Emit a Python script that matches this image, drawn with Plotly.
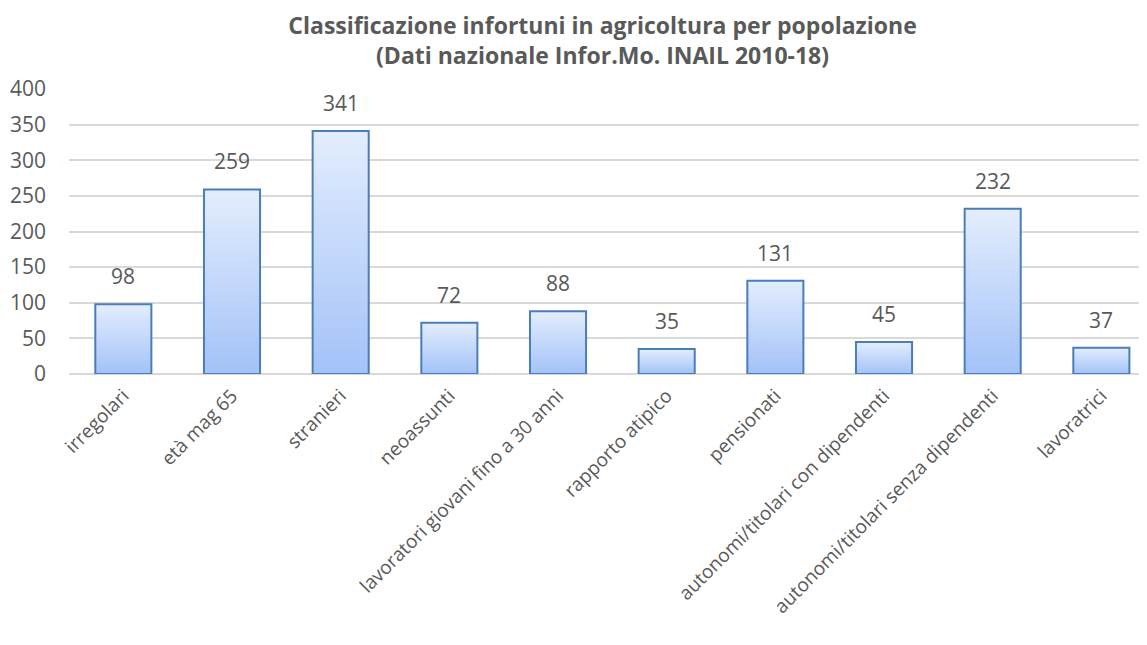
import plotly.graph_objects as go

categories = [
    "irregolari", "età mag 65", "stranieri", "neoassunti",
    "lavoratori giovani fino a 30 anni", "rapporto atipico", "pensionati",
    "autonomi/titolari con dipendenti", "autonomi/titolari senza dipendenti",
    "lavoratrici",
]
values = [98, 259, 341, 72, 88, 35, 131, 45, 232, 37]

GREY = "#595959"
BAR_EDGE = "#4a7ebb"
HALF = 0.258  # half bar width, in category units

fig = go.Figure()

# each bar as a filled polygon so it can carry a vertical gradient
for i, v in enumerate(values):
    fig.add_trace(go.Scatter(
        x=[i - HALF, i - HALF, i + HALF, i + HALF, i - HALF],
        y=[0, v, v, 0, 0],
        mode="lines", fill="toself",
        fillgradient=dict(type="vertical",
                          colorscale=[[0, "#a3c2f8"], [1, "#e3edfd"]]),
        line=dict(color=BAR_EDGE, width=2),
        showlegend=False, hoverinfo="skip",
    ))

# value labels above the bars
for i, v in enumerate(values):
    fig.add_annotation(
        x=i, y=v, text=str(v), showarrow=False,
        yanchor="bottom", yshift=12,
        font=dict(size=21, color=GREY),
    )

# page body has an 8px margin, so the figure is sized/offset to compensate
fig.update_layout(
    width=1139, height=637,
    margin=dict(l=61, r=0, t=81, b=271),
    paper_bgcolor="white", plot_bgcolor="white",
    font=dict(family="Open Sans", color=GREY),
    title=dict(
        text="<b>Classificazione infortuni in agricoltura per popolazione<br>(Dati nazionale Infor.Mo. INAIL 2010-18)</b>",
        font=dict(size=23, color=GREY),
        xref="container", x=0.522, xanchor="center",
        yref="container", y=1 - 26 / 637, yanchor="middle",
    ),
)
fig.update_xaxes(
    range=[-0.5, 9.42], automargin=False,
    tickmode="array", tickvals=list(range(len(categories))), ticktext=categories,
    tickangle=-45, tickfont=dict(size=19, color=GREY),
    ticklabelstandoff=6,
    showgrid=False, zeroline=False, showline=False, ticks="",
)
fig.update_yaxes(
    range=[0, 400], dtick=50, automargin=False,
    gridcolor="#d9d9d9", gridwidth=1.5,
    zeroline=True, zerolinecolor="#d9d9d9", zerolinewidth=1.5,
    tickfont=dict(size=21, color=GREY),
    ticklabelstandoff=22,
)

fig.write_html("out.html")
